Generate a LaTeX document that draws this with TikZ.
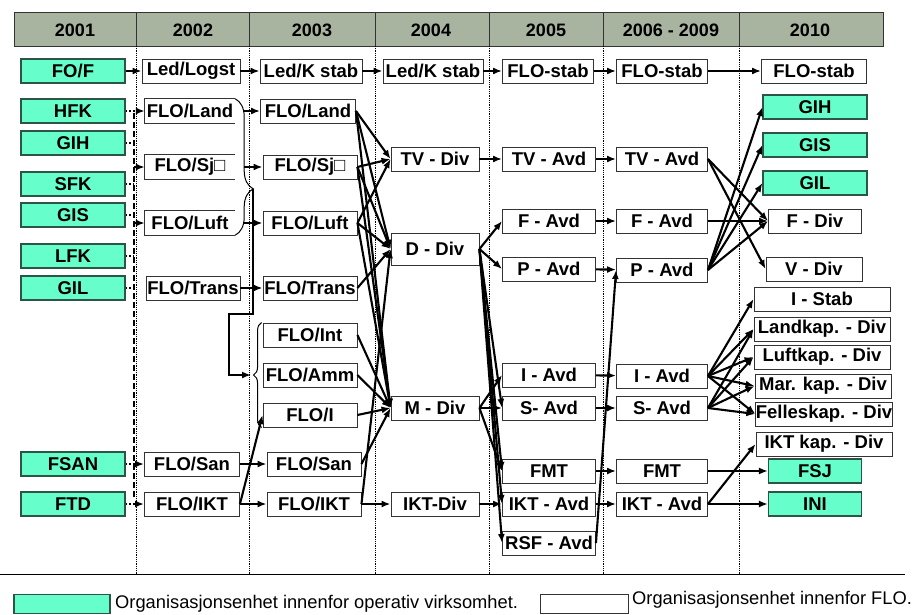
\documentclass[tikz,border=0pt]{standalone}
\usepackage{fontspec}
\setmainfont{Liberation Sans}
\usetikzlibrary{arrows.meta,decorations.pathreplacing}
\definecolor{opsgreen}{RGB}{102,255,204}
\definecolor{opsedge}{RGB}{45,85,70}
\definecolor{headgray}{RGB}{168,179,160}
\newcommand{\boxfont}{\fontsize{18.5}{20}\selectfont\bfseries}
\newcommand{\legfont}{\fontsize{18.3}{20}\selectfont}
\begin{document}
\begin{tikzpicture}[x=1pt,y=-1pt,
  unit/.style={draw=black!80,line width=0.9pt,fill=white,minimum height=24pt,inner sep=0pt,font=\boxfont},
  ops/.style={unit,fill=opsgreen,draw=opsedge,line width=1.1pt},
  openbox/.style={minimum height=24pt,inner sep=0pt,font=\boxfont},
  arr/.style={line width=2.1pt,-{Latex[length=9pt,width=7pt]}},
  dots/.style={line width=2pt,dash pattern=on 1.8pt off 1.8pt},
  year/.style={font=\fontsize{18}{20}\selectfont\bfseries},
  grid/.style={line width=0.8pt,densely dotted}]
\useasboundingbox (0,0) rectangle (918,615);
\draw[fill=headgray,draw=black!80] (14,12) rectangle (883,46);
\foreach \x in {136,249,375,489,603,739} {
  \draw[black!80] (\x,12) -- (\x,46);
  \draw[grid] (\x,46) -- (\x,574);
}
\draw[line width=0.7pt] (0,574) -- (905,574);
\node[year] (h2001) at (75,30) {2001};
\node[year] (h2002) at (193,30) {2002};
\node[year] (h2003) at (312,30) {2003};
\node[year] (h2004) at (431,30) {2004};
\node[year] (h2005) at (546,30) {2005};
\node[year] (h2006) at (671,30) {2006 - 2009};
\node[year] (h2010) at (810,30) {2010};
\node[ops,minimum width=104pt] (aFOF) at (73,71) {FO/F};
\node[ops,minimum width=104pt] (aHFK) at (73,111) {HFK};
\node[ops,minimum width=104pt] (aGIH) at (73,143) {GIH};
\node[ops,minimum width=104pt] (aSFK) at (73,184) {SFK};
\node[ops,minimum width=104pt] (aGIS) at (73,215) {GIS};
\node[ops,minimum width=104pt] (aLFK) at (73,256) {LFK};
\node[ops,minimum width=104pt] (aGIL) at (73,288) {GIL};
\node[ops,minimum width=104pt] (aFSAN) at (73,464) {FSAN};
\node[ops,minimum width=104pt] (aFTD) at (73,504) {FTD};
\node[unit,minimum width=98pt] (bLed) at (191,71) {Led/Logst};
\node[openbox,minimum width=90pt] (bLand) at (190,111) {FLO/Land};
\node[openbox,minimum width=90pt] (bSj) at (190,167) {FLO/Sj□};
\node[openbox,minimum width=90pt] (bLuft) at (190,223) {FLO/Luft};
\node[unit,minimum width=94pt] (bTrans) at (193,288) {FLO/Trans};
\node[unit,minimum width=95pt] (bSan) at (192,464) {FLO/San};
\node[unit,minimum width=95pt] (bIKT) at (192,504) {FLO/IKT};
\foreach \n in {bLand,bSj,bLuft}
  \draw[black!80,line width=0.9pt] (\n.north east) -- (\n.north west) -- (\n.south west) -- (\n.south east);
\node[unit,minimum width=102pt] (cLed) at (311,71) {Led/K stab};
\node[unit,minimum width=95pt] (cLand) at (308,111) {FLO/Land};
\node[unit,minimum width=94pt] (cSj) at (310,167) {FLO/Sj□};
\node[unit,minimum width=94pt] (cLuft) at (310,223) {FLO/Luft};
\node[unit,minimum width=94pt] (cTrans) at (310,288) {FLO/Trans};
\node[unit,minimum width=94pt] (cInt) at (310,335) {FLO/Int};
\node[unit,minimum width=94pt] (cAmm) at (310,375) {FLO/Amm};
\node[unit,minimum width=94pt] (cI) at (310,415) {FLO/I};
\node[unit,minimum width=94pt] (cSan) at (314,464) {FLO/San};
\node[unit,minimum width=94pt] (cIKT) at (314,504) {FLO/IKT};
\node[unit,minimum width=100pt] (dLed) at (433,71) {Led/K stab};
\node[unit,minimum width=88pt] (dTV) at (435,159) {TV - Div};
\node[unit,minimum width=88pt,minimum height=32pt] (dD) at (435,249) {D - Div};
\node[unit,minimum width=88pt] (dM) at (435,408) {M - Div};
\node[unit,minimum width=88pt] (dIKT) at (435,504) {IKT-Div};
\node[unit,minimum width=91pt] (eStab) at (548,71) {FLO-stab};
\node[unit,minimum width=93pt] (eTV) at (549,159) {TV - Avd};
\node[unit,minimum width=93pt] (eF) at (549,221) {F - Avd};
\node[unit,minimum width=93pt] (eP) at (549,269) {P - Avd};
\node[unit,minimum width=93pt] (eI) at (549,375) {I - Avd};
\node[unit,minimum width=93pt] (eS) at (549,408) {S- Avd};
\node[unit,minimum width=93pt] (eFMT) at (549,471) {FMT};
\node[unit,minimum width=93pt] (eIKT) at (549,504) {IKT - Avd};
\node[unit,minimum width=93pt] (eRSF) at (549,543) {RSF - Avd};
\node[unit,minimum width=91pt] (fStab) at (662,71) {FLO-stab};
\node[unit,minimum width=91pt] (fTV) at (662,159) {TV - Avd};
\node[unit,minimum width=91pt] (fF) at (662,221) {F - Avd};
\node[unit,minimum width=91pt] (fP) at (662,270) {P - Avd};
\node[unit,minimum width=91pt] (fI) at (662,376) {I - Avd};
\node[unit,minimum width=91pt] (fS) at (662,408) {S- Avd};
\node[unit,minimum width=91pt] (fFMT) at (662,471) {FMT};
\node[unit,minimum width=91pt] (fIKT) at (662,504) {IKT - Avd};
\node[unit,minimum width=105pt] (gStab) at (814,71) {FLO-stab};
\node[ops,minimum width=104pt] (gGIH) at (815,107) {GIH};
\node[ops,minimum width=104pt] (gGIS) at (815,145) {GIS};
\node[ops,minimum width=104pt] (gGIL) at (815,183) {GIL};
\node[unit,minimum width=93pt] (gF) at (815,221) {F - Div};
\node[unit,minimum width=96pt] (gV) at (814,269) {V - Div};
\node[unit,minimum width=136pt] (gIStab) at (822,299) {I - Stab};
\node[unit,minimum width=136pt] (gLand) at (822,329) {Landkap. - Div};
\node[unit,minimum width=136pt] (gLuft) at (822,357) {Luftkap. - Div};
\node[unit,minimum width=136pt] (gMar) at (823,386) {Mar. kap. - Div};
\node[unit,minimum width=136pt] (gFelles) at (824,414) {Felleskap. - Div};
\node[unit,minimum width=136pt] (gIKT) at (824,444) {IKT kap. - Div};
\node[ops,minimum width=93pt] (gFSJ) at (815,471) {FSJ};
\node[ops,minimum width=93pt] (gINI) at (815,504) {INI};
\coordinate (spineTop) at (134,113);
\coordinate (spineBot) at (134,497);
\draw[line width=2.4pt,dash pattern=on 6pt off 3pt] (spineTop) -- (spineBot);
\foreach \n in {aGIH,aSFK,aGIS,aLFK,aGIL}
  \draw[dots] (\n.east) -- (\n.east -| spineTop);
\draw[dots,-{Latex[length=9pt,width=7pt]}] (aHFK) -- (bLand);
\draw[dots,-{Latex[length=9pt,width=7pt]}] (aFSAN) -- (bSan);
\draw[dots,-{Latex[length=9pt,width=7pt]}] (aFTD) -- (bIKT);
\draw[arr] (bSj.west -| spineTop) -- (bSj.west);
\draw[arr] (bLuft.west -| spineTop) -- (bLuft.west);
\draw[arr] (aFOF) -- (bLed);
\draw[arr] (bLed) -- (cLed);
\draw[arr] (cLed) -- (dLed);
\draw[arr] (dLed) -- (eStab);
\draw[arr] (eStab) -- (fStab);
\draw[arr] (fStab) -- (gStab);
\draw[line width=1pt,decorate,decoration={brace,amplitude=18pt,aspect=0.66}] (bLand.north east) -- (bLuft.south east);
\coordinate (bTip) at (253,189);
\coordinate (bBend) at (229,314);
\coordinate (cTip) at (251,375);
\draw[arr] (bTip) |- (bBend) |- (cTip);
\draw[line width=1pt,decorate,decoration={brace,amplitude=8pt}] ([xshift=-1pt]cI.south west) -- ([xshift=-1pt]cInt.north west);
\draw[arr] ([xshift=9pt]bLand.east) -- (cLand);
\draw[arr] ([xshift=9pt]bSj.east) -- (cSj);
\draw[arr] ([xshift=9pt]bLuft.east) -- (cLuft);
\draw[arr] (bTrans) -- (cTrans);
\draw[arr] (bSan) -- (cSan);
\draw[arr] (bIKT) -- (cIKT);
\draw[arr] (bIKT.east) -- (cI.west);
\foreach \s in {cLand,cSj,cLuft}
  \foreach \t in {dTV,dD,dM}
    \draw[arr] (\s.east) -- (\t.west);
\draw[arr] (cTrans.east) -- (dD.west);
\foreach \s in {cInt,cAmm,cI,cSan}
  \draw[arr] (\s.east) -- (dM.west);
\draw[arr] (cIKT) -- (dIKT);
\draw[arr] (cIKT.east) -- (dD.west);
\draw[arr] (dTV) -- (eTV);
\draw[arr] (dD.east) -- (eF.west);
\draw[arr] (dD.east) -- (eP.west);
\foreach \t in {eS,eFMT,eIKT,eRSF}
  \draw[arr] (dD.east) -- (\t.west);
\foreach \t in {eI,eS,eFMT}
  \draw[arr] (dM.east) -- (\t.west);
\draw[arr] (dIKT) -- (eIKT);
\draw[arr] (eRSF.east) -- (fP.west);
\draw[arr] (eTV) -- (fTV);
\draw[arr] (eF) -- (fF);
\draw[arr] (eP) -- (fP);
\draw[arr] (eI) -- (fI);
\draw[arr] (eS) -- (fS);
\draw[arr] (eFMT) -- (fFMT);
\draw[arr] (eIKT) -- (fIKT);
\draw[arr] (fTV.east) -- (gF.west);
\draw[arr] (fTV.east) -- (gV.west);
\draw[arr] (fF) -- (gF);
\foreach \t in {gGIH,gGIS,gGIL,gF}
  \draw[arr] (fP.east) -- (\t.west);
\foreach \t in {gIStab,gLand,gLuft,gMar,gFelles}
  \draw[arr] (fI.east) -- (\t.west);
\foreach \t in {gLand,gLuft,gMar,gFelles}
  \draw[arr] (fS.east) -- (\t.west);
\draw[arr] (fFMT) -- (gFSJ);
\draw[arr] (fIKT) -- (gINI);
\draw[arr] (fIKT.east) -- (gIKT.west);
\node[ops,minimum width=96pt,minimum height=19pt] (legOps) at (62,604) {};
\node[anchor=west,font=\legfont,inner sep=0pt] (legOpsTxt) at (115,604) {Organisasjonsenhet innenfor operativ virksomhet.};
\node[unit,minimum width=88pt,minimum height=19pt] (legFlo) at (584,604) {};
\node[anchor=west,font=\legfont,inner sep=0pt] (legFloTxt) at (632,600) {Organisasjonsenhet innenfor FLO.};
\end{tikzpicture}
\end{document}
